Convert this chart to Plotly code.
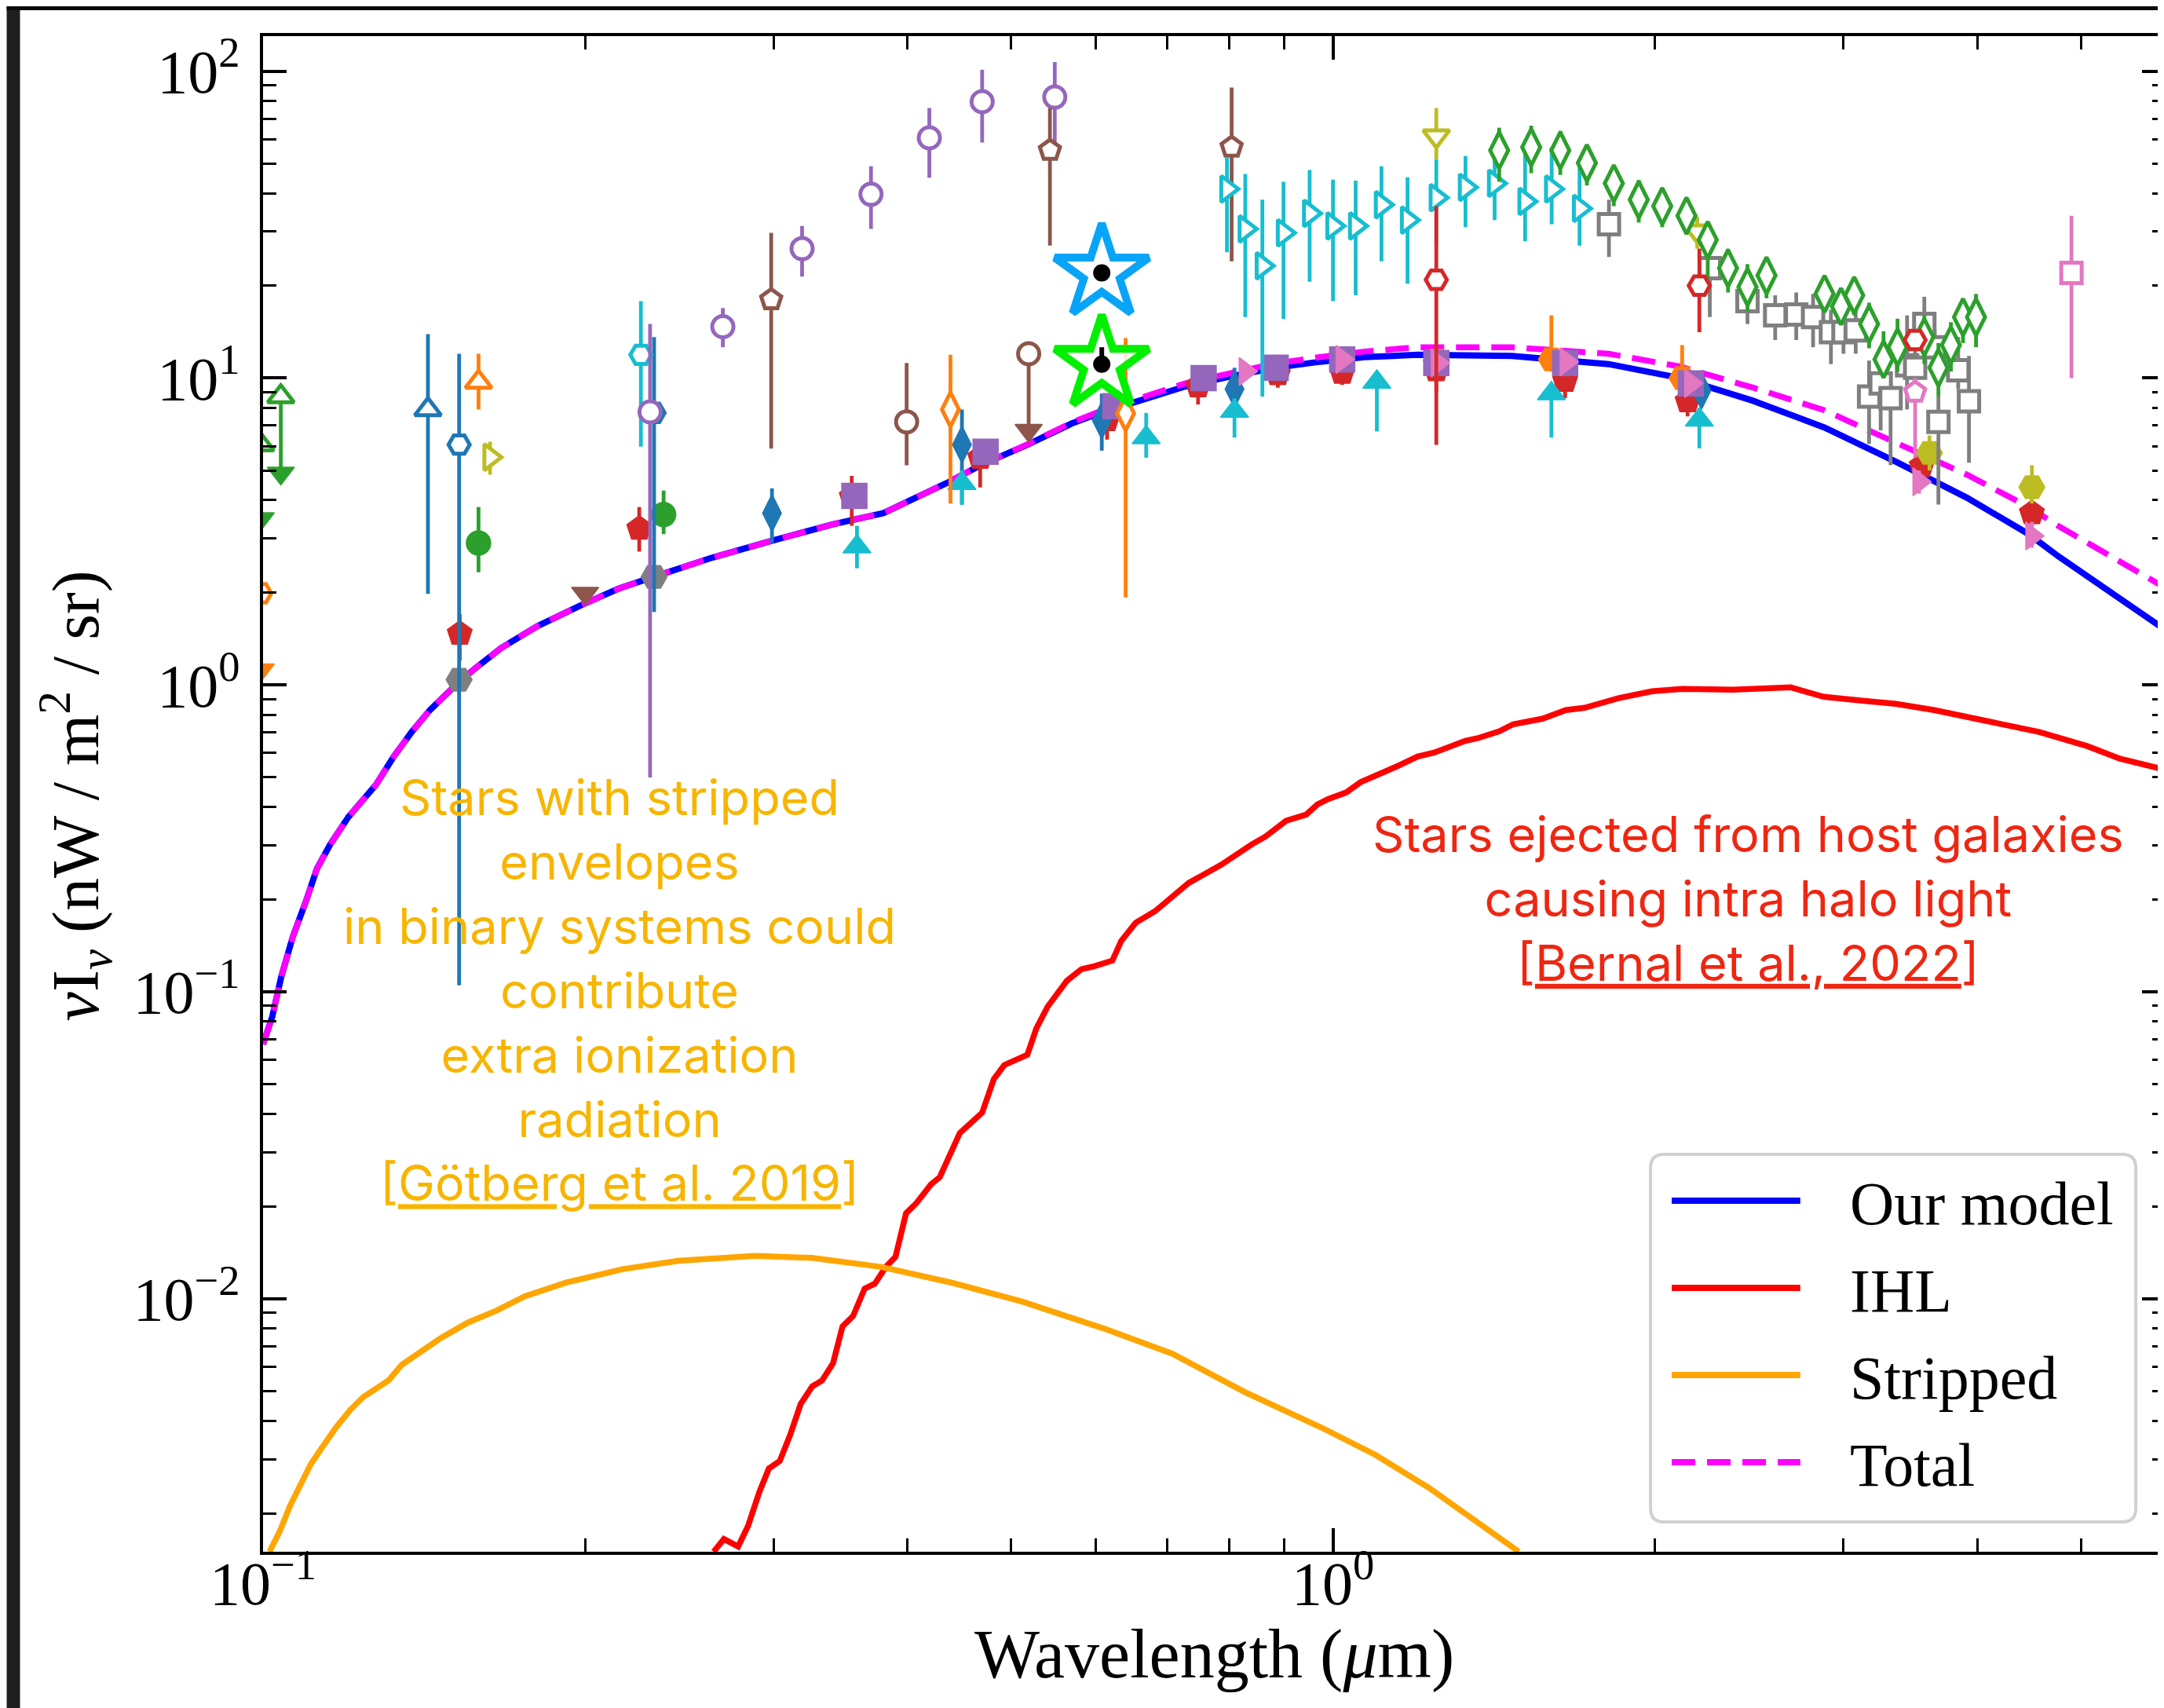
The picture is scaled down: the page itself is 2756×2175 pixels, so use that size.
import math
import plotly.graph_objects as go

# ------------------------------------------------------------------ model curves
model_wl = [0.100, 0.102, 0.104, 0.1066, 0.1097, 0.1123, 0.1156, 0.1202, 0.1275, 0.1325, 0.1377,
            0.1432, 0.1517, 0.1577, 0.167, 0.1805, 0.199, 0.215, 0.230, 0.263, 0.298, 0.341, 0.380,
            0.403, 0.435, 0.470, 0.518, 0.570, 0.610, 0.659, 0.727, 0.800, 0.883, 0.972, 1.07, 1.20,
            1.47, 1.81, 2.11, 2.47, 2.88, 3.36, 3.91, 4.47, 4.76, 6.0]
model_v = [0.0675, 0.083, 0.112, 0.151, 0.198, 0.252, 0.303, 0.372, 0.473, 0.585, 0.703,
           0.828, 1.006, 1.13, 1.32, 1.555, 1.83, 2.06, 2.23, 2.6, 2.94, 3.34, 3.63,
           3.99, 4.54, 5.23, 6.06, 7.11, 7.77, 8.43, 9.38, 10.1, 10.8, 11.3, 11.7, 11.9,
           11.8, 11.1, 10.0, 8.43, 6.90, 5.33, 4.08, 3.1, 2.63, 1.51]
total_wl = model_wl
total_v = [0.0675, 0.083, 0.112, 0.151, 0.198, 0.252, 0.303, 0.372, 0.473, 0.585, 0.703,
           0.828, 1.006, 1.13, 1.32, 1.555, 1.83, 2.06, 2.23, 2.6, 2.94, 3.34, 3.63,
           3.99, 4.54, 5.23, 6.08, 7.16, 7.87, 8.58, 9.6, 10.35, 11.15, 11.7, 12.2, 12.6,
           12.6, 12.0, 10.9, 9.3, 7.85, 6.15, 4.85, 3.8, 3.3, 2.07]
ihl_wl = [0.2637, 0.2696, 0.278, 0.284, 0.291, 0.297, 0.304, 0.311, 0.318, 0.326, 0.333, 0.341,
          0.348, 0.356, 0.365, 0.373, 0.382, 0.390, 0.399, 0.408, 0.421, 0.429, 0.448, 0.470,
          0.482, 0.493, 0.518, 0.528, 0.541, 0.564, 0.582, 0.596, 0.622, 0.634, 0.654, 0.682,
          0.733, 0.786, 0.840, 0.865, 0.904, 0.944, 0.967, 0.990, 1.029, 1.061, 1.146, 1.200,
          1.243, 1.330, 1.364, 1.430, 1.474, 1.569, 1.651, 1.719, 1.848, 1.987, 2.122, 2.364,
          2.679, 2.875, 3.122, 3.357, 3.647, 4.168, 4.571, 5.07, 5.44, 5.91, 6.0]
ihl_v = [0.0015, 0.00165, 0.00156, 0.00182, 0.00235, 0.0028, 0.00296, 0.00361, 0.00454, 0.00518,
         0.00542, 0.00617, 0.00813, 0.00879, 0.0108, 0.0112, 0.0127, 0.0137, 0.019, 0.0205,
         0.0236, 0.0249, 0.0347, 0.0404, 0.052, 0.0578, 0.0624, 0.0759, 0.0894, 0.1087, 0.1186,
         0.1208, 0.1265, 0.1466, 0.168, 0.1833, 0.2264, 0.2594, 0.3027, 0.321, 0.361, 0.378,
         0.408, 0.425, 0.4465, 0.482, 0.542, 0.585, 0.602, 0.658, 0.670, 0.706, 0.745, 0.776,
         0.828, 0.843, 0.905, 0.954, 0.971, 0.965, 0.982, 0.915, 0.889, 0.868, 0.828, 0.754,
         0.703, 0.632, 0.575, 0.536, 0.527]
strip_wl = [0.1014, 0.1036, 0.106, 0.1084, 0.1108, 0.1135, 0.117, 0.1206, 0.1241, 0.131, 0.1348,
            0.140, 0.1466, 0.1555, 0.1653, 0.1757, 0.1921, 0.2169, 0.2445, 0.2884, 0.3257, 0.3785,
            0.4396, 0.512, 0.611, 0.708, 0.831, 0.975, 1.096, 1.23, 1.382, 1.492]
strip_v = [0.0015, 0.00174, 0.00212, 0.00248, 0.00289, 0.00327, 0.00381, 0.00434, 0.00479, 0.00542,
           0.0061, 0.00667, 0.00745, 0.00838, 0.00916, 0.0102, 0.0113, 0.0125, 0.0133, 0.0138,
           0.0136, 0.0127, 0.0113, 0.0098, 0.0080, 0.00662, 0.00493, 0.00381, 0.0031, 0.00242,
           0.00181, 0.0015]

# ------------------------------------------------------------------ measurements (wl, value, upper, lower)
purple_circ_wl = [0.230, 0.269, 0.319, 0.370, 0.4195, 0.470, 0.5495]
purple_circ_v = [7.76, 14.7, 26.4, 39.7, 60.6, 79.5, 82.3]
purple_circ_hi = [15.0, 16.9, 31.3, 49.0, 75.8, 101, 107]
purple_circ_lo = [0.50, 12.6, 21.4, 30.6, 44.9, 58.5, 58.2]

brown_pent_wl = [0.2985, 0.5438, 0.804]
brown_pent_v = [18.0, 55.2, 56.5]
brown_pent_hi = [29.7, 75.8, 88.4]
brown_pent_lo = [5.89, 27.0, 24.0]

brown_circ_wl = [0.3995, 0.5195]
brown_circ_v = [7.2, 12.0]
brown_circ_hi = [11.2, 12.0]
brown_circ_lo = [5.2, 6.75]
brown_arrow_wl = [0.2, 0.5195]
brown_arrow_v = [1.99, 6.75]

green_lim_wl = [0.0995, 0.1039]
green_lim_v = [6.07, 8.7]
green_lim_lo = [3.48, 4.9]
orange_lim_wl = [0.0995]
orange_lim_v = [1.99]
orange_lim_lo = [1.12]

blue_tri_wl = [0.1426]; blue_tri_v = [7.9]; blue_tri_hi = [13.9]; blue_tri_lo = [1.98]
blue_hexo_wl = [0.1525]; blue_hexo_v = [6.07]; blue_hexo_hi = [12.0]; blue_hexo_lo = [0.105]
orange_tri_wl = [0.159]; orange_tri_v = [9.7]; orange_tri_hi = [12.0]; orange_tri_lo = [7.9]
olive_tri_wl = [0.163]; olive_tri_v = [5.52]; olive_tri_hi = [6.2]; olive_tri_lo = [4.84]
cyan_hexo_wl = [0.2255]; cyan_hexo_v = [11.9]; cyan_hexo_hi = [17.8]; cyan_hexo_lo = [5.98]
blue_hexf_wl = [0.232]; blue_hexf_v = [7.7]; blue_hexf_hi = [13.6]; blue_hexf_lo = [1.73]

green_circ_wl = [0.159, 0.2368]
green_circ_v = [2.9, 3.59]
green_circ_hi = [3.8, 4.3]
green_circ_lo = [2.33, 3.1]

gray_hex_wl = [0.1525, 0.232]
gray_hex_v = [1.04, 2.25]

orange_diam_wl = [0.439, 0.640]
orange_diam_v = [7.9, 7.67]
orange_diam_hi = [11.9, 13.5]
orange_diam_lo = [3.9, 1.93]

cyan_rt_wl = [0.796, 0.828, 0.859, 0.899, 0.951, 1.0, 1.05, 1.11, 1.174, 1.249, 1.33, 1.416, 1.512, 1.601, 1.70]
cyan_rt_v = [41.3, 30.6, 23.2, 29.7, 34.4, 31.3, 31.3, 36.7, 32.7, 38.7, 41.8, 43.1, 37.6, 41.3, 35.7]
cyan_rt_hi = [52.3, 46.2, 38.1, 43.6, 47.6, 44.3, 44.0, 49.0, 45.1, 51.7, 52.9, 54.5, 53.5, 56.5, 49.1]
cyan_rt_lo = [25.7, 15.8, 8.7, 15.6, 20.6, 17.8, 18.6, 24.0, 20.3, 27.0, 31.0, 32.7, 27.9, 31.7, 27.0]

olive_dn_wl = [1.249, 2.19]
olive_dn_v = [61.4, 30.1]
olive_dn_hi = [75.8, 33.5]
olive_dn_lo = [51.7, 26.4]

red_hexo_wl = [1.249, 2.20, 3.50]
red_hexo_v = [20.9, 20.0, 13.3]
red_hexo_hi = [36.3, 26.4, 13.3]
red_hexo_lo = [6.06, 14.1, 13.3]

green_diam_wl = [1.43, 1.532, 1.631, 1.727, 1.83, 1.931, 2.031, 2.14, 2.24, 2.34, 2.44, 2.542,
                 2.88, 2.984, 3.07, 3.17, 3.27, 3.37, 3.57, 3.68, 3.78, 3.88, 3.99]
green_diam_v = [55.2, 56.5, 55.2, 50.2, 43.1, 38.1, 36.3, 33.8, 28.2, 22.8, 19.8, 21.6,
                18.8, 17.1, 18.6, 15.0, 11.5, 12.6, 13.6, 10.8, 12.8, 15.8, 15.8]
green_diam_hi = [65.4, 66.4, 63.9, 57.5, 49.1, 44.2, 41.3, 38.1, 31.7, 26.4, 23.5, 24.8,
                 21.4, 19.6, 20.9, 17.6, 14.2, 15.6, 16.0, 13.0, 15.2, 18.2, 18.8]
green_diam_lo = [43.6, 46.5, 45.9, 42.4, 36.3, 32.1, 31.0, 29.6, 21.1, 19.0, 16.5, 18.2,
                 16.5, 15.0, 16.0, 12.5, 10.2, 10.5, 11.1, 8.7, 10.5, 13.0, 12.6]

gray_sq_wl = [1.811, 2.25, 2.44, 2.59, 2.71, 2.81, 2.92, 3.00, 3.08, 3.17, 3.25, 3.32, 3.44,
              3.50, 3.57, 3.65, 3.68, 3.84, 3.93]
gray_sq_v = [31.7, 22.8, 17.8, 16.0, 16.1, 15.8, 14.1, 14.1, 14.3, 8.7, 9.6, 8.6, 11.0,
             10.8, 15.0, 12.6, 7.2, 10.6, 8.4]
gray_sq_hi = [38.1, 24.8, 19.6, 18.6, 19.0, 18.8, 16.7, 16.0, 16.5, 11.4, 11.4, 10.5, 16.0,
              12.5, 18.4, 14.5, 8.7, 13.6, 11.8]
gray_sq_lo = [24.8, 15.8, 15.0, 13.3, 13.3, 12.6, 11.1, 12.0, 12.0, 6.1, 6.75, 5.2, 7.9,
              9.0, 11.8, 10.5, 3.87, 9.2, 5.3]

pink_sq_wl = [4.90]; pink_sq_v = [22.0]; pink_sq_hi = [33.8]; pink_sq_lo = [10.0]
pink_pent_wl = [3.50]; pink_pent_v = [9.0]; pink_pent_hi = [10.0]; pink_pent_lo = [5.5]

red_pent_wl = [0.1527, 0.2247, 0.355, 0.468, 0.615, 0.748, 0.888, 1.02, 1.249, 1.648, 2.145, 3.55, 4.5]
red_pent_v = [1.47, 3.23, 4.1, 5.5, 7.3, 9.4, 10.3, 10.4, 10.6, 9.8, 8.4, 5.17, 3.63]
red_pent_hi = [1.7, 3.8, 4.8, 6.06, 8.3, 10.8, 11.0, 11.2, 11.2, 11.0, 9.3, 5.7, 4.1]
red_pent_lo = [1.2, 2.72, 3.3, 4.4, 6.3, 8.2, 9.3, 9.5, 9.0, 8.6, 7.5, 4.7, 3.3]

purple_sq_wl = [0.357, 0.4735, 0.626, 0.757, 0.884, 1.02, 1.249, 1.648, 2.16]
purple_sq_v = [4.13, 5.75, 8.1, 10.0, 10.8, 11.5, 11.2, 11.2, 9.6]

pink_rt_wl = [0.828, 1.02, 1.252, 1.652, 2.16, 3.53, 4.5]
pink_rt_v = [10.5, 11.5, 11.2, 11.3, 9.6, 4.59, 3.06]
pink_rt_hi = [11.1, 11.8, 11.5, 11.6, 9.9, 5.0, 3.4]
pink_rt_lo = [9.9, 11.2, 10.9, 11.0, 9.3, 4.2, 2.8]

blue_diam_wl = [0.299, 0.450, 0.608, 0.809, 2.21]
blue_diam_v = [3.63, 6.07, 7.28, 9.2, 9.1]
blue_diam_hi = [4.37, 7.9, 8.9, 10.8, 9.8]
blue_diam_lo = [2.9, 3.87, 5.8, 8.2, 8.4]

cyan_up_wl = [0.359, 0.450, 0.669, 0.809, 1.099, 1.60, 2.20]
cyan_up_v = [2.82, 4.54, 6.4, 7.8, 9.7, 8.9, 7.3]
cyan_up_hi = [3.3, 5.0, 7.7, 8.6, 10.5, 9.6, 8.0]
cyan_up_lo = [2.4, 3.87, 5.5, 6.4, 6.7, 6.4, 5.9]

orange_hex_wl = [1.249, 1.60, 2.12]
orange_hex_v = [11.4, 11.5, 10.0]
orange_hex_hi = [12.0, 16.0, 12.8]
orange_hex_lo = [10.8, 10.5, 9.2]

olive_hex_wl = [3.61, 4.50]
olive_hex_v = [5.7, 4.41]
olive_hex_hi = [6.5, 5.2]
olive_hex_lo = [5.0, 3.9]

star_wl = [0.608, 0.608]
star_v = [22.0, 11.1]
star_hi = [22.0, 12.6]
star_lo = [22.0, 10.6]

# ------------------------------------------------------------------ colours
C_BLUE, C_ORANGE, C_GREEN, C_RED = "#1f77b4", "#ff7f0e", "#2ca02c", "#d62728"
C_PURPLE, C_BROWN, C_PINK, C_GRAY = "#9467bd", "#8c564b", "#e377c2", "#7f7f7f"
C_OLIVE, C_CYAN = "#bcbd22", "#17becf"

fig = go.Figure()

# curves
fig.add_trace(go.Scatter(x=model_wl, y=model_v, mode="lines", line=dict(color="#0000ff", width=8), showlegend=False))
fig.add_trace(go.Scatter(x=ihl_wl, y=ihl_v, mode="lines", line=dict(color="#ff0000", width=7.5), showlegend=False))
fig.add_trace(go.Scatter(x=strip_wl, y=strip_v, mode="lines", line=dict(color="#ffa500", width=7.5), showlegend=False))
fig.add_trace(go.Scatter(x=total_wl, y=total_v, mode="lines",
                         line=dict(color="#ff00ff", width=7.5, dash="30px,15px"), showlegend=False))


def add_group(wl, v, hi=None, lo=None, symbol="circle", color="black", filled=True, size=28, lw=5):
    if hi is None:
        hi = v
    if lo is None:
        lo = v
    ep = [h - y for h, y in zip(hi, v)]
    em = [y - l for l, y in zip(lo, v)]
    has_err = any(e > 0 for e in ep + em)
    face = color if filled else "white"
    marker = dict(symbol=symbol, size=size, color=face,
                  line=dict(color=color, width=(1.5 if filled else lw)))
    err = dict(type="data", symmetric=False, array=ep, arrayminus=em, color=color,
               thickness=4.8, width=0, visible=has_err)
    fig.add_trace(go.Scatter(x=wl, y=v, mode="markers", marker=marker, error_y=err,
                             showlegend=False, cliponaxis=True))


def add_arrows(wl, v, color):
    fig.add_trace(go.Scatter(x=wl, y=v, mode="markers", showlegend=False,
                             marker=dict(symbol="triangle-down", size=30, color=color,
                                         line=dict(color=color, width=1.5))))


# filled points
add_group(red_pent_wl, red_pent_v, red_pent_hi, red_pent_lo, "pentagon", C_RED, size=33)
add_group(orange_hex_wl, orange_hex_v, orange_hex_hi, orange_hex_lo, "hexagon2", C_ORANGE, size=33)
add_group(blue_diam_wl, blue_diam_v, blue_diam_hi, blue_diam_lo, "diamond-tall", C_BLUE, size=34)
add_group(olive_hex_wl, olive_hex_v, olive_hex_hi, olive_hex_lo, "hexagon2", C_OLIVE, size=33)
add_group(gray_hex_wl, gray_hex_v, None, None, "hexagon2", C_GRAY, size=33)
add_group(purple_sq_wl, purple_sq_v, None, None, "square", C_PURPLE, size=32)
add_group(pink_rt_wl, pink_rt_v, pink_rt_hi, pink_rt_lo, "triangle-right", C_PINK, size=31)
add_group(cyan_up_wl, cyan_up_v, cyan_up_hi, cyan_up_lo, "triangle-up", C_CYAN, size=31)
add_group(green_circ_wl, green_circ_v, green_circ_hi, green_circ_lo, "circle", C_GREEN, size=31)
add_group(blue_hexf_wl, blue_hexf_v, blue_hexf_hi, blue_hexf_lo, "hexagon2", C_BLUE, size=31)

# open points (white face) and limit arrows
add_group(green_lim_wl, green_lim_v, None, green_lim_lo, "triangle-up", C_GREEN, filled=False, size=29)
add_arrows(green_lim_wl, green_lim_lo, C_GREEN)
add_group(orange_lim_wl, orange_lim_v, None, orange_lim_lo, "hexagon2", C_ORANGE, filled=False, size=27)
add_arrows(orange_lim_wl, orange_lim_lo, C_ORANGE)
add_group(blue_tri_wl, blue_tri_v, blue_tri_hi, blue_tri_lo, "triangle-up", C_BLUE, filled=False, size=29)
add_group(blue_hexo_wl, blue_hexo_v, blue_hexo_hi, blue_hexo_lo, "hexagon2", C_BLUE, filled=False, size=27)
add_group(orange_tri_wl, orange_tri_v, orange_tri_hi, orange_tri_lo, "triangle-up", C_ORANGE, filled=False, size=29)
add_group(olive_tri_wl, olive_tri_v, olive_tri_hi, olive_tri_lo, "triangle-right", C_OLIVE, filled=False, size=29)
add_group(cyan_hexo_wl, cyan_hexo_v, cyan_hexo_hi, cyan_hexo_lo, "hexagon2", C_CYAN, filled=False, size=27)
add_group(purple_circ_wl, purple_circ_v, purple_circ_hi, purple_circ_lo, "circle", C_PURPLE, filled=False, size=27)
add_group(brown_pent_wl, brown_pent_v, brown_pent_hi, brown_pent_lo, "pentagon", C_BROWN, filled=False, size=27)
add_group(brown_circ_wl, brown_circ_v, brown_circ_hi, brown_circ_lo, "circle", C_BROWN, filled=False, size=27)
add_arrows(brown_arrow_wl, brown_arrow_v, C_BROWN)
add_group(orange_diam_wl, orange_diam_v, orange_diam_hi, orange_diam_lo, "diamond-tall", C_ORANGE, filled=False, size=31)
add_group(cyan_rt_wl, cyan_rt_v, cyan_rt_hi, cyan_rt_lo, "triangle-right", C_CYAN, filled=False, size=29)
add_group(olive_dn_wl, olive_dn_v, olive_dn_hi, olive_dn_lo, "triangle-down", C_OLIVE, filled=False, size=29)
add_group(gray_sq_wl, gray_sq_v, gray_sq_hi, gray_sq_lo, "square", C_GRAY, filled=False, size=26)
add_group(green_diam_wl, green_diam_v, green_diam_hi, green_diam_lo, "diamond-tall", C_GREEN, filled=False, size=33)
add_group(red_hexo_wl, red_hexo_v, red_hexo_hi, red_hexo_lo, "hexagon2", C_RED, filled=False, size=27)
add_group(pink_pent_wl, pink_pent_v, pink_pent_hi, pink_pent_lo, "pentagon", C_PINK, filled=False, size=27)
add_group(pink_sq_wl, pink_sq_v, pink_sq_hi, pink_sq_lo, "square", C_PINK, filled=False, size=26)

# stars
fig.add_trace(go.Scatter(x=star_wl[:1], y=star_v[:1], mode="markers", showlegend=False,
                         marker=dict(symbol="star", size=90, color="rgba(255,255,255,0.85)",
                                     line=dict(color="#08a4f8", width=10))))
fig.add_trace(go.Scatter(x=star_wl[1:], y=star_v[1:], mode="markers", showlegend=False,
                         marker=dict(symbol="star", size=90, color="rgba(255,255,255,0.85)",
                                     line=dict(color="#00f000", width=10))))
fig.add_trace(go.Scatter(x=star_wl, y=star_v, mode="markers", showlegend=False,
                         marker=dict(symbol="circle", size=22, color="black"),
                         error_y=dict(type="data", symmetric=False,
                                      array=[h - y for h, y in zip(star_hi, star_v)],
                                      arrayminus=[y - l for l, y in zip(star_lo, star_v)],
                                      color="black", thickness=6, width=0)))

# ------------------------------------------------------------------ layout
W, H = 2756, 2175
PL, PR, PT, PB = 327, 2754, 38, 1968


def px(x):
    return (x - PL) / (PR - PL)


def py(y):
    return (PB - y) / (PB - PT)


SERIF = "Liberation Serif"
TICKFONT = dict(family=SERIF, size=78, color="black")

x_minor = [m * 10 ** e for e in (-1, 0) for m in range(2, 10) if m * 10 ** e < 6.0]
y_minor = [m * 10 ** e for e in range(-3, 2) for m in range(2, 10) if m * 10 ** e > 1.5e-3]

fig.update_layout(
    width=W, height=H,
    margin=dict(l=PL, r=W - PR, t=PT, b=H - PB),
    paper_bgcolor="white", plot_bgcolor="white",
    showlegend=False,
    xaxis=dict(type="log", range=[-1, math.log10(6.0)], showline=True, linecolor="black", linewidth=3.5,
               mirror="ticks", ticks="inside", ticklen=30, tickwidth=4, tickcolor="black",
               tickmode="array", tickvals=[0.1, 1], ticktext=["10<sup>−1</sup>", "10<sup>0</sup>"],
               tickfont=TICKFONT, showgrid=False, zeroline=False, ticklabelstandoff=-30,
               minor=dict(ticks="inside", ticklen=17, tickwidth=3, tickcolor="black",
                          tickmode="array", tickvals=x_minor, showgrid=False)),
    yaxis=dict(type="log", range=[math.log10(1.5e-3), math.log10(130)], showline=True, linecolor="black",
               linewidth=3.5, mirror="ticks", ticks="inside", ticklen=30, tickwidth=4, tickcolor="black",
               tickmode="array", tickvals=[0.01, 0.1, 1, 10, 100],
               ticktext=["10<sup>−2</sup>", "10<sup>−1</sup>", "10<sup>0</sup>", "10<sup>1</sup>", "10<sup>2</sup>"],
               tickfont=TICKFONT, showgrid=False, zeroline=False, ticklabelstandoff=10,
               minor=dict(ticks="inside", ticklen=17, tickwidth=3, tickcolor="black",
                          tickmode="array", tickvals=y_minor, showgrid=False)),
)

annotations = []
# axis titles
annotations.append(dict(x=px(1540), y=py(2098), xref="paper", yref="paper", showarrow=False,
                        text="Wavelength (<i>μ</i>m)", font=dict(family=SERIF, size=88, color="black"),
                        xanchor="center", yanchor="middle"))
annotations.append(dict(x=px(88), y=py(1005), xref="paper", yref="paper", showarrow=False, textangle=-90,
                        text="<i>ν</i>I<sub><i>ν</i></sub> (nW / m<sup>2</sup> / sr)",
                        font=dict(family=SERIF, size=84, color="black"),
                        xanchor="center", yanchor="middle"))
# text notes
annotations.append(dict(x=px(782), y=py(1252), xref="paper", yref="paper", showarrow=False,
                        text=("Stars with stripped<br>envelopes<br>in binary systems could<br>contribute"
                              "<br>extra ionization<br>radiation<br>[<u>Götberg et al. 2019</u>]"),
                        font=dict(family="Inter", size=63, color="#f7b500"), align="center",
                        xanchor="center", yanchor="middle"))
annotations.append(dict(x=px(2222), y=py(1136), xref="paper", yref="paper", showarrow=False,
                        text=("Stars ejected from host galaxies<br>causing intra halo light"
                              "<br>[<u>Bernal et al., 2022</u>]"),
                        font=dict(family="Inter", size=63, color="#ee2612"), align="center",
                        xanchor="center", yanchor="middle"))

# manual legend
leg_items = [("Our model", "#0000ff", "solid"), ("IHL", "#ff0000", "solid"),
             ("Stripped", "#ffa500", "solid"), ("Total", "#ff00ff", "30px,15px")]
leg_rows = [1521, 1632, 1743, 1854]
shapes = []
bx0, bx1, by0, by1 = px(2097), px(2716), py(1930), py(1462)
rx, ry = 17 / (PR - PL), 17 / (PB - PT)
path = (f"M {bx0 + rx},{by0} L {bx1 - rx},{by0} Q {bx1},{by0} {bx1},{by0 + ry} "
        f"L {bx1},{by1 - ry} Q {bx1},{by1} {bx1 - rx},{by1} L {bx0 + rx},{by1} "
        f"Q {bx0},{by1} {bx0},{by1 - ry} L {bx0},{by0 + ry} Q {bx0},{by0} {bx0 + rx},{by0} Z")
shapes.append(dict(type="path", path=path, xref="paper", yref="paper",
                   fillcolor="rgba(255,255,255,0.85)", line=dict(color="#d0d0d0", width=4), layer="above"))
for (lab, col, dash), ry_ in zip(leg_items, leg_rows):
    shapes.append(dict(type="line", xref="paper", yref="paper", x0=px(2124), x1=px(2288), y0=py(ry_), y1=py(ry_),
                       line=dict(color=col, width=8, dash=dash), layer="above"))
    annotations.append(dict(x=px(2349), y=py(ry_ + 3), xref="paper", yref="paper", showarrow=False, text=lab,
                            font=dict(family=SERIF, size=78, color="black"), xanchor="left", yanchor="middle"))

# dark screenshot borders (left and top)
shapes.append(dict(type="rect", xref="paper", yref="paper", x0=px(0), x1=px(17), y0=py(H), y1=py(0),
                   fillcolor="#1e1e1e", line=dict(width=0), layer="above"))
shapes.append(dict(type="rect", xref="paper", yref="paper", x0=px(0), x1=px(W), y0=py(5), y1=py(0),
                   fillcolor="#0a0a0a", line=dict(width=0), layer="above"))

fig.update_layout(annotations=annotations, shapes=shapes)

fig.write_html("out.html")
